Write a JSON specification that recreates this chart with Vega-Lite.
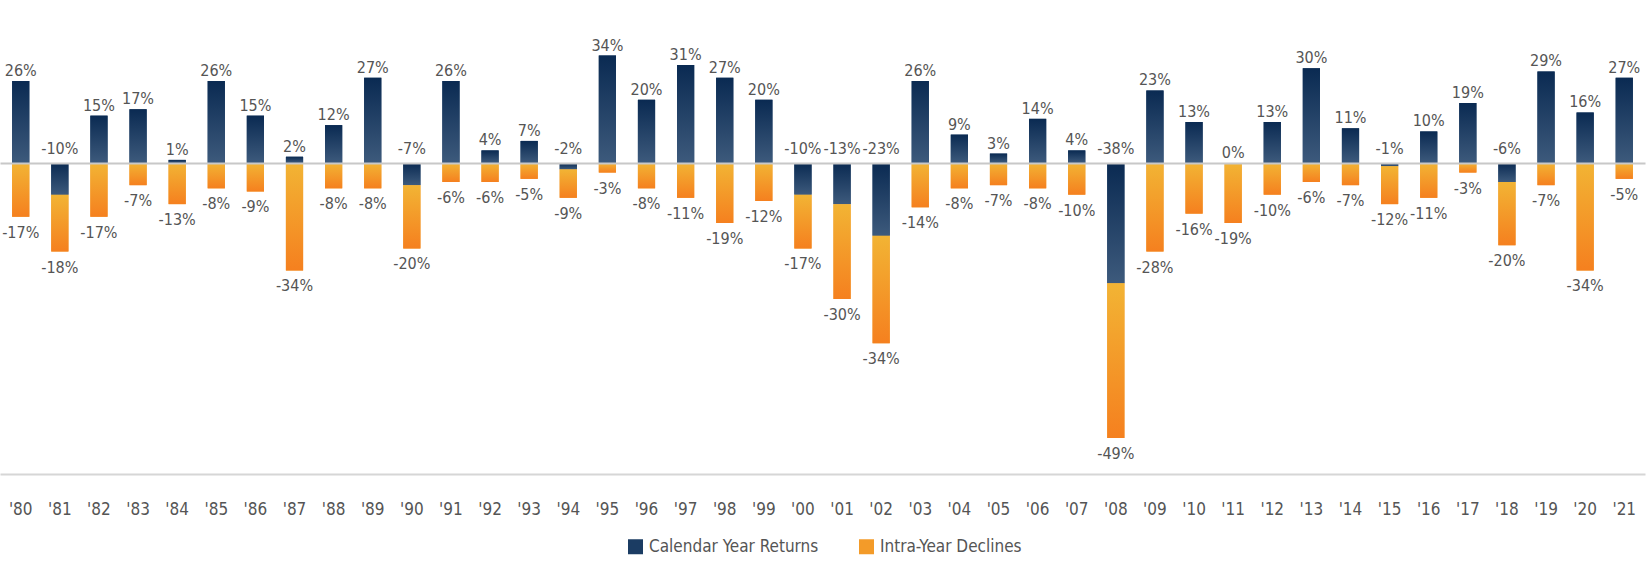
{
  "$schema": "https://vega.github.io/schema/vega-lite/v6.json",
  "width": 1645,
  "height": 474,
  "autosize": {"type": "none"},
  "padding": {"left": 0, "top": 0, "right": 2, "bottom": 93},
  "data": {"values": [
    {"year": 1980, "series": "Calendar Year Returns", "value": 0.26}, {"year": 1980, "series": "Intra-Year Declines", "value": -0.17},
    {"year": 1981, "series": "Calendar Year Returns", "value": -0.10}, {"year": 1981, "series": "Intra-Year Declines", "value": -0.18},
    {"year": 1982, "series": "Calendar Year Returns", "value": 0.15}, {"year": 1982, "series": "Intra-Year Declines", "value": -0.17},
    {"year": 1983, "series": "Calendar Year Returns", "value": 0.17}, {"year": 1983, "series": "Intra-Year Declines", "value": -0.07},
    {"year": 1984, "series": "Calendar Year Returns", "value": 0.01}, {"year": 1984, "series": "Intra-Year Declines", "value": -0.13},
    {"year": 1985, "series": "Calendar Year Returns", "value": 0.26}, {"year": 1985, "series": "Intra-Year Declines", "value": -0.08},
    {"year": 1986, "series": "Calendar Year Returns", "value": 0.15}, {"year": 1986, "series": "Intra-Year Declines", "value": -0.09},
    {"year": 1987, "series": "Calendar Year Returns", "value": 0.02}, {"year": 1987, "series": "Intra-Year Declines", "value": -0.34},
    {"year": 1988, "series": "Calendar Year Returns", "value": 0.12}, {"year": 1988, "series": "Intra-Year Declines", "value": -0.08},
    {"year": 1989, "series": "Calendar Year Returns", "value": 0.27}, {"year": 1989, "series": "Intra-Year Declines", "value": -0.08},
    {"year": 1990, "series": "Calendar Year Returns", "value": -0.07}, {"year": 1990, "series": "Intra-Year Declines", "value": -0.20},
    {"year": 1991, "series": "Calendar Year Returns", "value": 0.26}, {"year": 1991, "series": "Intra-Year Declines", "value": -0.06},
    {"year": 1992, "series": "Calendar Year Returns", "value": 0.04}, {"year": 1992, "series": "Intra-Year Declines", "value": -0.06},
    {"year": 1993, "series": "Calendar Year Returns", "value": 0.07}, {"year": 1993, "series": "Intra-Year Declines", "value": -0.05},
    {"year": 1994, "series": "Calendar Year Returns", "value": -0.02}, {"year": 1994, "series": "Intra-Year Declines", "value": -0.09},
    {"year": 1995, "series": "Calendar Year Returns", "value": 0.34}, {"year": 1995, "series": "Intra-Year Declines", "value": -0.03},
    {"year": 1996, "series": "Calendar Year Returns", "value": 0.20}, {"year": 1996, "series": "Intra-Year Declines", "value": -0.08},
    {"year": 1997, "series": "Calendar Year Returns", "value": 0.31}, {"year": 1997, "series": "Intra-Year Declines", "value": -0.11},
    {"year": 1998, "series": "Calendar Year Returns", "value": 0.27}, {"year": 1998, "series": "Intra-Year Declines", "value": -0.19},
    {"year": 1999, "series": "Calendar Year Returns", "value": 0.20}, {"year": 1999, "series": "Intra-Year Declines", "value": -0.12},
    {"year": 2000, "series": "Calendar Year Returns", "value": -0.10}, {"year": 2000, "series": "Intra-Year Declines", "value": -0.17},
    {"year": 2001, "series": "Calendar Year Returns", "value": -0.13}, {"year": 2001, "series": "Intra-Year Declines", "value": -0.30},
    {"year": 2002, "series": "Calendar Year Returns", "value": -0.23}, {"year": 2002, "series": "Intra-Year Declines", "value": -0.34},
    {"year": 2003, "series": "Calendar Year Returns", "value": 0.26}, {"year": 2003, "series": "Intra-Year Declines", "value": -0.14},
    {"year": 2004, "series": "Calendar Year Returns", "value": 0.09}, {"year": 2004, "series": "Intra-Year Declines", "value": -0.08},
    {"year": 2005, "series": "Calendar Year Returns", "value": 0.03}, {"year": 2005, "series": "Intra-Year Declines", "value": -0.07},
    {"year": 2006, "series": "Calendar Year Returns", "value": 0.14}, {"year": 2006, "series": "Intra-Year Declines", "value": -0.08},
    {"year": 2007, "series": "Calendar Year Returns", "value": 0.04}, {"year": 2007, "series": "Intra-Year Declines", "value": -0.10},
    {"year": 2008, "series": "Calendar Year Returns", "value": -0.38}, {"year": 2008, "series": "Intra-Year Declines", "value": -0.49},
    {"year": 2009, "series": "Calendar Year Returns", "value": 0.23}, {"year": 2009, "series": "Intra-Year Declines", "value": -0.28},
    {"year": 2010, "series": "Calendar Year Returns", "value": 0.13}, {"year": 2010, "series": "Intra-Year Declines", "value": -0.16},
    {"year": 2011, "series": "Calendar Year Returns", "value": 0.00}, {"year": 2011, "series": "Intra-Year Declines", "value": -0.19},
    {"year": 2012, "series": "Calendar Year Returns", "value": 0.13}, {"year": 2012, "series": "Intra-Year Declines", "value": -0.10},
    {"year": 2013, "series": "Calendar Year Returns", "value": 0.30}, {"year": 2013, "series": "Intra-Year Declines", "value": -0.06},
    {"year": 2014, "series": "Calendar Year Returns", "value": 0.11}, {"year": 2014, "series": "Intra-Year Declines", "value": -0.07},
    {"year": 2015, "series": "Calendar Year Returns", "value": -0.01}, {"year": 2015, "series": "Intra-Year Declines", "value": -0.12},
    {"year": 2016, "series": "Calendar Year Returns", "value": 0.10}, {"year": 2016, "series": "Intra-Year Declines", "value": -0.11},
    {"year": 2017, "series": "Calendar Year Returns", "value": 0.19}, {"year": 2017, "series": "Intra-Year Declines", "value": -0.03},
    {"year": 2018, "series": "Calendar Year Returns", "value": -0.06}, {"year": 2018, "series": "Intra-Year Declines", "value": -0.20},
    {"year": 2019, "series": "Calendar Year Returns", "value": 0.29}, {"year": 2019, "series": "Intra-Year Declines", "value": -0.07},
    {"year": 2020, "series": "Calendar Year Returns", "value": 0.16}, {"year": 2020, "series": "Intra-Year Declines", "value": -0.34},
    {"year": 2021, "series": "Calendar Year Returns", "value": 0.27}, {"year": 2021, "series": "Intra-Year Declines", "value": -0.05}
  ]},
  "layer": [
    {
      "mark": {"type": "bar"},
      "encoding": {
        "x": {"field": "year", "type": "ordinal", "axis": {"title": null, "labelExpr": "\"'\" + slice(datum.label, 2)"}},
        "y": {
          "field": "value", "type": "quantitative", "stack": "zero",
          "scale": {"domain": [-0.984, 0.516], "nice": false, "zero": false},
          "axis": {"title": null, "values": [0], "grid": true, "gridColor": "#c8c8c8", "gridWidth": 2, "domain": false, "ticks": false, "labels": false, "zindex": 1}
        },
        "order": {"field": "series", "type": "nominal", "sort": "ascending"},
        "color": {
          "field": "series", "type": "nominal",
          "scale": {"domain": ["Calendar Year Returns", "Intra-Year Declines"], "range": ["#1b3c63", "#f39b29"]},
          "legend": {
            "title": null, "orient": "none", "legendX": 627, "legendY": 538, "direction": "horizontal",
            "symbolType": "square", "symbolSize": 225, "symbolStrokeWidth": 0,
            "labelFontSize": 17, "labelFont": "DejaVu Sans Condensed, DejaVu Sans, sans-serif", "labelColor": "#555555",
            "labelLimit": 0, "columnPadding": 39, "labelOffset": 5, "padding": 0
          }
        }
      }
    },
    {
      "mark": {"type": "bar"},
      "encoding": {
        "x": {"field": "year", "type": "ordinal"},
        "y": {"field": "value", "type": "quantitative", "stack": "zero"},
        "detail": {"field": "series", "type": "nominal"},
        "order": {"field": "series", "type": "nominal", "sort": "ascending"},
        "color": {
          "condition": {"test": "datum.series == 'Calendar Year Returns'", "value": {"gradient": "linear", "x1": 0, "y1": 0, "x2": 0, "y2": 1, "stops": [{"offset": 0, "color": "#0a2a52"}, {"offset": 1, "color": "#3d5a7c"}]}},
          "value": {"gradient": "linear", "x1": 0, "y1": 0, "x2": 0, "y2": 1, "stops": [{"offset": 0, "color": "#f2b434"}, {"offset": 1, "color": "#f5801f"}]}
        }
      }
    },
    {
      "transform": [{"filter": "datum.series == 'Calendar Year Returns' && datum.value >= 0"}],
      "mark": {"type": "text", "font": "DejaVu Sans Condensed, DejaVu Sans, sans-serif", "fontSize": 16, "color": "#555555", "baseline": "alphabetic", "dy": -5, "text": {"expr": "round(datum.value * 100) + '%'"}},
      "encoding": {
        "x": {"field": "year", "type": "ordinal"},
        "y": {"field": "value", "type": "quantitative"}
      }
    },
    {
      "transform": [{"filter": "datum.series == 'Calendar Year Returns' && datum.value < 0"}],
      "mark": {"type": "text", "font": "DejaVu Sans Condensed, DejaVu Sans, sans-serif", "fontSize": 16, "color": "#555555", "baseline": "alphabetic", "dy": -9.5, "text": {"expr": "round(datum.value * 100) + '%'"}},
      "encoding": {
        "x": {"field": "year", "type": "ordinal"},
        "y": {"field": "value", "type": "quantitative", "stack": "zero", "bandPosition": 0}
      }
    },
    {
      "mark": {"type": "text", "font": "DejaVu Sans Condensed, DejaVu Sans, sans-serif", "fontSize": 16, "color": "#555555", "baseline": "alphabetic", "dy": 21, "text": {"expr": "round(datum.value * 100) + '%'"}},
      "encoding": {
        "x": {"field": "year", "type": "ordinal"},
        "y": {"field": "value", "type": "quantitative", "stack": "zero"},
        "detail": {"field": "series", "type": "nominal"},
        "order": {"field": "series", "type": "nominal", "sort": "ascending"},
        "opacity": {"condition": {"test": "datum.series == 'Calendar Year Returns'", "value": 0}, "value": 1}
      }
    }
  ],
  "config": {
    "view": {"stroke": null},
    "scale": {"bandPaddingInner": 0.56, "bandPaddingOuter": 0.31},
    "axisX": {
      "ticks": false, "tickSize": 0, "labelPadding": 40, "labelBaseline": "alphabetic", "labelAngle": 0,
      "labelFontSize": 17, "labelFont": "DejaVu Sans Condensed, DejaVu Sans, sans-serif", "labelColor": "#555555",
      "domainColor": "#d6d6d6", "domainWidth": 2, "grid": false
    }
  }
}
